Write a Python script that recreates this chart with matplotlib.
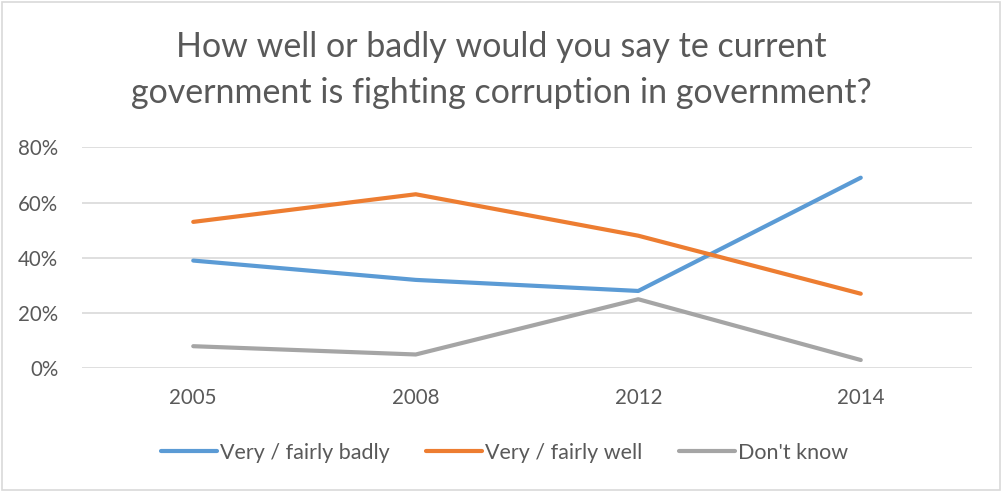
import matplotlib
matplotlib.use("Agg")
import matplotlib.pyplot as plt
from matplotlib.patches import Rectangle
from matplotlib.ticker import FuncFormatter

plt.rcParams['font.family'] = ['Lato', 'DejaVu Sans']

years = ["2005", "2008", "2012", "2014"]
badly = [39, 32, 28, 69]
well = [53, 63, 48, 27]
dont_know = [8, 5, 25, 3]
series_names = ["Very / fairly badly", "Very / fairly well", "Don't know"]
colors = ["#5B9BD5", "#ED7D31", "#A5A5A5"]
title_lines = ["How well or badly would you say te current",
               "government is fighting corruption in government?"]

W, H = 1001, 491
fig = plt.figure(figsize=(W / 100, H / 100), dpi=100)
ax = fig.add_axes([82 / W, 1 - 368.3 / H, (972 - 82) / W, (368.3 - 147.3) / H])

x = range(len(years))
for vals, name, c in zip([badly, well, dont_know], series_names, colors):
    ax.plot(x, [v / 100 for v in vals], color=c, lw=3.0, label=name,
            solid_capstyle='round', solid_joinstyle='round', zorder=3)

ax.set_xlim(-0.5, len(years) - 0.5)
ax.set_ylim(0, 0.8)
ax.set_yticks([0, 0.2, 0.4, 0.6, 0.8])
ax.yaxis.set_major_formatter(FuncFormatter(lambda v, _: f"{v * 100:.0f}%"))
ax.set_xticks(list(x))
ax.set_xticklabels(years)
ax.grid(axis='y', color='#D9D9D9', lw=1.2, zorder=0)
for s in ax.spines.values():
    s.set_visible(False)
ax.tick_params(axis='both', length=0, labelsize=14.8, colors='#595959')
ax.tick_params(axis='x', pad=14)
ax.tick_params(axis='y', pad=17)

# two-line title, one baseline per line
for line, base in zip(title_lines, [57.3, 103.3]):
    fig.text(0.501, 1 - base / H, line, ha='center', va='baseline',
             fontsize=24.5, color='#595959')

leg = fig.legend(loc='center', bbox_to_anchor=(0.504, 1 - 453 / H), ncol=3,
                 frameon=False, fontsize=15.5, handlelength=2.6,
                 handletextpad=0.15, columnspacing=1.7)
for t in leg.get_texts():
    t.set_color('#595959')

fig.patches.append(Rectangle((1.5 / W, 1.5 / H), (W - 3) / W, (H - 3) / H,
                             transform=fig.transFigure, fill=False,
                             edgecolor='#D9D9D9', lw=1.2))

fig.savefig("out.png", dpi=100)
